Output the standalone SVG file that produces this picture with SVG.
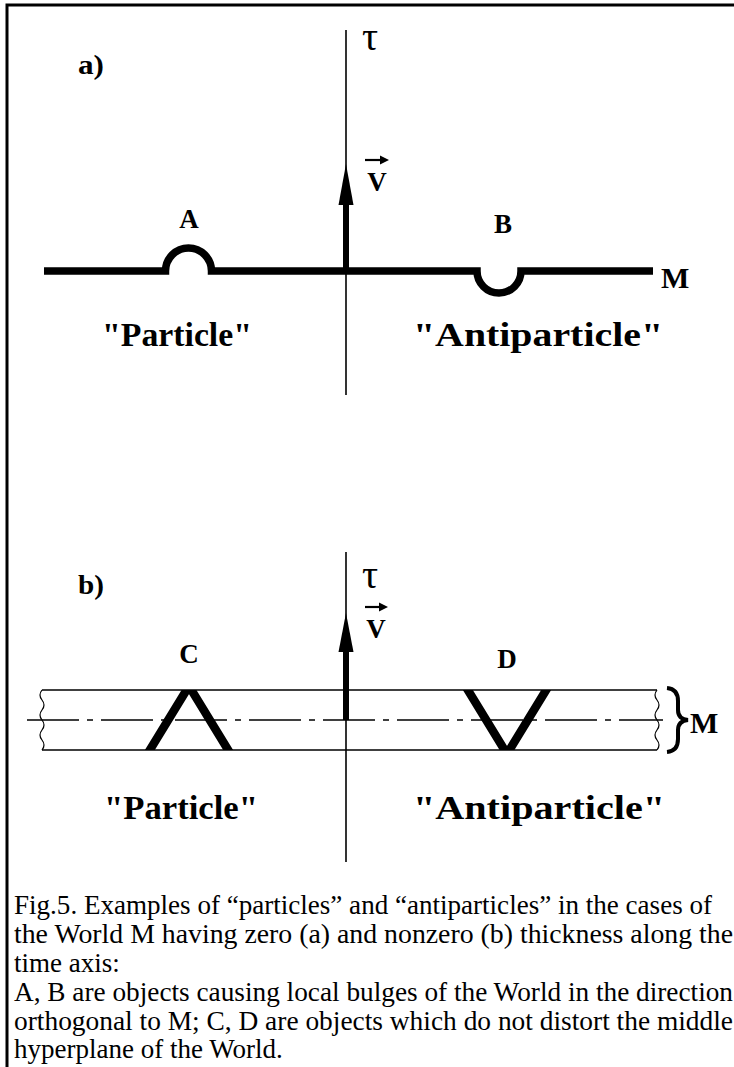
<svg xmlns="http://www.w3.org/2000/svg" width="734" height="1067" viewBox="0 0 734 1067">
<style>
.lbl{font-family:"Liberation Serif","Times New Roman",serif;font-weight:bold;fill:#000}
.tau{font-family:"Liberation Serif","Times New Roman",serif;font-size:40px;fill:#000}
.cap{font-family:"Liberation Serif","Times New Roman",serif;font-size:27px;fill:#000}
.axis{stroke:#000;stroke-width:1.6;fill:none}
.thick{stroke:#000;stroke-width:7.5;fill:none}
.thin{stroke:#000;stroke-width:1.5;fill:none}
.wave{stroke:#000;stroke-width:1.2;fill:none}
.vee{stroke:#000;stroke-width:8.5;fill:none;stroke-linejoin:miter;stroke-miterlimit:10}
</style>
<defs>
<clipPath id="strip"><rect x="40" y="690" width="620" height="60"/></clipPath>
</defs>
<rect x="0" y="0" width="734" height="1067" fill="#fff"/>
<path d="M7 1067 V5 H734" stroke="#000" stroke-width="3" fill="none"/>

<g id="connectors">
<line class="axis" x1="346" y1="30" x2="346" y2="395"/>
<line class="axis" x1="346" y1="552" x2="346" y2="862"/>
<rect x="343" y="200" width="6" height="72" fill="#000"/>
<polygon points="346,164 353.5,205 338.5,205" fill="#000"/>
<rect x="343" y="648" width="6" height="72" fill="#000"/>
<polygon points="346,613 353.5,652 338.5,652" fill="#000"/>
</g>

<g id="world-a">
<path class="thick" d="M44 271 H165.5 A23 23 0 0 1 211.5 271 H477 A22 22 0 0 0 521 271 H653"/>
</g>

<g id="world-b">
<line class="thin" x1="42" y1="690" x2="657" y2="690"/>
<line class="thin" x1="42" y1="750" x2="657" y2="750"/>
<line class="thin" x1="27" y1="720" x2="663" y2="720" stroke-dasharray="52 8 6 8"/>
<path class="wave" d="M42 690 q-4 5 0 10 t0 10 t0 10 t0 10 t0 10 t0 10"/>
<path class="wave" d="M657 690 q-4 5 0 10 t0 10 t0 10 t0 10 t0 10 t0 10"/>
<path d="M667 688 Q678 689 678 701 L678 710 Q678 719 688 720 Q678 721 678 730 L678 739 Q678 751 667 752" stroke="#000" stroke-width="4" fill="none"/>
</g>

<g id="object-C">
<polyline class="vee" clip-path="url(#strip)" points="148,753 189,686 230,753"/>
</g>
<g id="object-D">
<polyline class="vee" clip-path="url(#strip)" points="466,687 507,754 548,687"/>
</g>

<g id="labels-a">
<text x="78" y="74" class="lbl" font-size="27" textLength="26" lengthAdjust="spacingAndGlyphs">a)</text>
<text x="362" y="50" class="tau">τ</text>
<line x1="365" y1="160" x2="381" y2="160" stroke="#000" stroke-width="2.2"/>
<polygon points="389,160 380,155.5 380,164.5" fill="#000"/>
<text x="377" y="191" class="lbl" font-size="27" text-anchor="middle">V</text>
<text x="189" y="228" class="lbl" font-size="27" text-anchor="middle">A</text>
<text x="503" y="233" class="lbl" font-size="27" text-anchor="middle">B</text>
<text x="661" y="288" class="lbl" font-size="30">M</text>
<text x="102" y="346" class="lbl" font-size="33" textLength="150" lengthAdjust="spacingAndGlyphs">"Particle"</text>
<text x="413" y="346" class="lbl" font-size="33" textLength="250" lengthAdjust="spacingAndGlyphs">"Antiparticle"</text>
</g>

<g id="labels-b">
<text x="78" y="594" class="lbl" font-size="27" textLength="26" lengthAdjust="spacingAndGlyphs">b)</text>
<text x="362" y="588" class="tau">τ</text>
<line x1="365" y1="607" x2="380" y2="607" stroke="#000" stroke-width="2.2"/>
<polygon points="388,607 379,602.5 379,611.5" fill="#000"/>
<text x="376" y="638" class="lbl" font-size="27" text-anchor="middle">V</text>
<text x="189" y="663" class="lbl" font-size="27" text-anchor="middle">C</text>
<text x="507" y="668" class="lbl" font-size="27" text-anchor="middle">D</text>
<text x="690" y="733" class="lbl" font-size="30">M</text>
<text x="104" y="819" class="lbl" font-size="33" textLength="154" lengthAdjust="spacingAndGlyphs">"Particle"</text>
<text x="413" y="819" class="lbl" font-size="33" textLength="252" lengthAdjust="spacingAndGlyphs">"Antiparticle"</text>
</g>

<g id="caption">
<text x="14" y="914" class="cap" textLength="698" lengthAdjust="spacingAndGlyphs">Fig.5. Examples of “particles” and “antiparticles” in the cases of</text>
<text x="14" y="943" class="cap" textLength="719" lengthAdjust="spacingAndGlyphs">the World M having zero (a) and nonzero (b) thickness along the</text>
<text x="14" y="972" class="cap">time axis:</text>
<text x="14" y="1001" class="cap" textLength="719" lengthAdjust="spacingAndGlyphs">A, B are objects causing local bulges of the World in the direction</text>
<text x="14" y="1030" class="cap" textLength="719" lengthAdjust="spacingAndGlyphs">orthogonal to M; C, D are objects which do not distort the middle</text>
<text x="14" y="1058" class="cap">hyperplane of the World.</text>
</g>
</svg>
